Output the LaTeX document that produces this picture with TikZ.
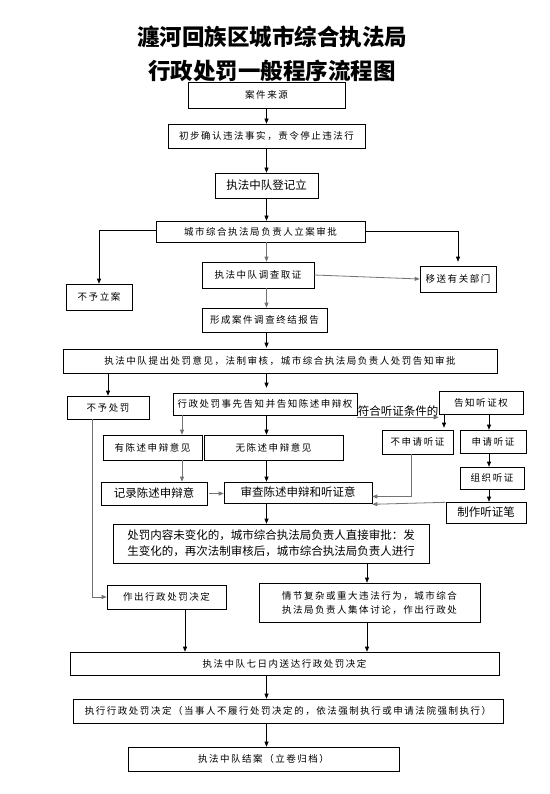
\documentclass[tikz,border=0pt]{standalone}
\usepackage{fontspec}
\usepackage{tikz}
\usetikzlibrary{arrows.meta}
\newfontfamily\cjks[LetterSpace=16]{Noto Sans CJK SC}
\newfontfamily\cjkl{Noto Sans CJK SC}
\newfontfamily\cjkt{Noto Sans CJK SC}

\begin{document}
\begin{tikzpicture}
    [x=1pt,y=-1pt,
    box/.style={draw,semithick,rectangle,inner sep=0pt,font=\cjks\fontsize{9.5}{11}\selectfont},
    bigbox/.style={box,font=\cjkl\fontsize{11.5}{16}\selectfont},
    link/.style={-{Triangle[length=5pt,width=4pt]},black,semithick},
    glink/.style={-{Triangle[length=5pt,width=4pt]},black!55,thick}]

\useasboundingbox (0,0) rectangle (549,794);

%title
\node (title1) at (272,37) {\cjkt\bfseries\fontsize{22.5}{26}\selectfont 瀍河回族区城市综合执法局};
\node (title2) at (272,71) {\cjkt\bfseries\fontsize{22.5}{26}\selectfont 行政处罚一般程序流程图};

%columns for the vertical connectors
\coordinate (mid) at (266.5,0);
\coordinate (colA) at (411,0);
\coordinate (colB) at (444,0);
\coordinate (colC) at (489,0);
\coordinate (colD) at (182,0);
\coordinate (colE) at (367,0);
\coordinate (colF) at (92,0);
\coordinate (colG) at (185,0);

%boxes, top part
\node[box,minimum width=157,minimum height=26] (source) at (266.5,95) {案件来源};
\node[box,minimum width=197,minimum height=24] (confirm) at (266.5,136) {初步确认违法事实，责令停止违法行};
\node[bigbox,minimum width=103,minimum height=25] (register) at (266.5,185.5) {执法中队登记立};
\node[box,minimum width=209,minimum height=21] (approve) at (260.5,231.5) {城市综合执法局负责人立案审批};
\node[box,minimum width=66,minimum height=26] (nocase) at (99,297) {不予立案};
\node[box,minimum width=76,minimum height=26] (transfer) at (458,279) {移送有关部门};
\node[box,minimum width=112,minimum height=26] (invest) at (258,275) {执法中队调查取证};
\node[box,minimum width=125,minimum height=24] (report) at (264.5,320) {形成案件调查终结报告};
\node[box,minimum width=434,minimum height=24] (opinion) at (280,361) {执法中队提出处罚意见，法制审核，城市综合执法局负责人处罚告知审批};

%boxes, middle part
\node[box,minimum width=82,minimum height=23] (nopenalty) at (108,407.5) {不予处罚};
\node[box,minimum width=184,minimum height=22] (notice) at (265,404) {行政处罚事先告知并告知陈述申辩权};
\node[box,minimum width=84,minimum height=23] (hearright) at (481,402.5) {告知听证权};
\node[box,minimum width=71,minimum height=24] (nohear) at (417.5,442) {不申请听证};
\node[box,minimum width=66,minimum height=23] (hear) at (493,441.5) {申请听证};
\node[box,minimum width=64,minimum height=22] (organize) at (492,478) {组织听证};
\node[bigbox,minimum width=80,minimum height=21] (minutes) at (486,512.5) {制作听证笔};
\node[box,minimum width=99,minimum height=25] (withop) at (152.5,447.5) {有陈述申辩意见};
\node[box,minimum width=139,minimum height=25] (noop) at (273.5,447.5) {无陈述申辩意见};
\node[bigbox,minimum width=106,minimum height=23] (note) at (154,493.5) {记录陈述申辩意};
\node[bigbox,minimum width=148,minimum height=21] (review) at (298,492.5) {审查陈述申辩和听证意};
\node[bigbox,minimum width=316,minimum height=39,align=left] (content) at (271,543.5)
    {处罚内容未变化的，城市综合执法局负责人直接审批：发\\生变化的，再次法制审核后，城市综合执法局负责人进行};

%boxes, bottom part
\node[box,minimum width=221,minimum height=39,align=left] (complex) at (369.5,602.5)
    {情节复杂或重大违法行为，城市综合\\[3pt]执法局负责人集体讨论，作出行政处};
\node[box,minimum width=119,minimum height=24] (decide) at (166.5,597) {作出行政处罚决定};
\node[box,minimum width=429,minimum height=23] (deliver) at (284.5,663.5) {执法中队七日内送达行政处罚决定};
\node[box,minimum width=430,minimum height=24] (execute) at (288,711) {执行行政处罚决定（当事人不履行处罚决定的，依法强制执行或申请法院强制执行）};
\node[box,minimum width=271,minimum height=24] (close) at (263.5,759) {执法中队结案（立卷归档）};

%connectors, top part
\draw[link] (source.south -| mid) -- (confirm.north -| mid);
\draw[link] (confirm.south -| mid) -- (register.north -| mid);
\draw[link] (register.south -| mid) -- (approve.north -| mid);
\draw[link] ([yshift=1.5]approve.west) -| (nocase.north);
\draw[link,shorten >=4pt] (approve.east) -| (transfer.north);
\draw[glink] (approve.south -| mid) -- (invest.north -| mid);
\draw[glink] (invest.east) -- (transfer.west);
\draw[glink] (invest.south -| mid) -- (report.north -| mid);
\draw[link,shorten >=1pt] (report.south -| mid) -- (opinion.north -| mid);

%connectors, middle part
\draw[link] (opinion.south -| nopenalty) -- (nopenalty.north);
\draw[link,shorten >=5pt] (opinion.south -| mid) -- (notice.north -| mid);
\draw[glink] ([yshift=-2]notice.south east) -- ([yshift=-2]notice.south east -| hearright.west)
    node[midway,above=0pt,text=black,font=\cjkl\fontsize{11.5}{14}\selectfont,inner sep=0.5pt] (cond) {符合听证条件的};
\draw[link,shorten >=2pt] (hearright.south -| colB) -- (nohear.north -| colB);
\draw[link] (hearright.south -| colC) -- (hear.north -| colC);
\draw[link] (hear.south -| colC) -- (organize.north -| colC);
\draw[link] (organize.south -| colC) -- (minutes.north -| colC);
\draw[glink] (minutes.west |- review.south) ++(0,-1) -- ([yshift=-1]review.south east);
\draw[glink] (nohear.south -| colA) |- ([yshift=-4]review.east);
\draw[glink] (notice.south -| colD) -- (withop.north -| colD);
\draw[link] (notice.south -| mid) -- (noop.north -| mid);
\draw[glink] (withop.south -| colD) -- (note.north -| colD);
\draw[link] (noop.south -| mid) -- (review.north -| mid);
\draw[glink,shorten <=2pt] (note.east) -- (review.west |- note.east);
\draw[link] (review.south -| mid) -- (content.north -| mid);

%connectors, bottom part
\draw[link] (content.south -| colE) -- (complex.north -| colE);
\draw[glink] (nopenalty.south -| colF) |- (decide.west);
\draw[link] (decide.south -| colG) -- (deliver.north -| colG);
\draw[link] (complex.south -| colE) -- (deliver.north -| colE);
\draw[link] (deliver.south -| mid) -- (execute.north -| mid);
\draw[link] (execute.south -| mid) -- (close.north -| mid);

\end{tikzpicture}
\end{document}
